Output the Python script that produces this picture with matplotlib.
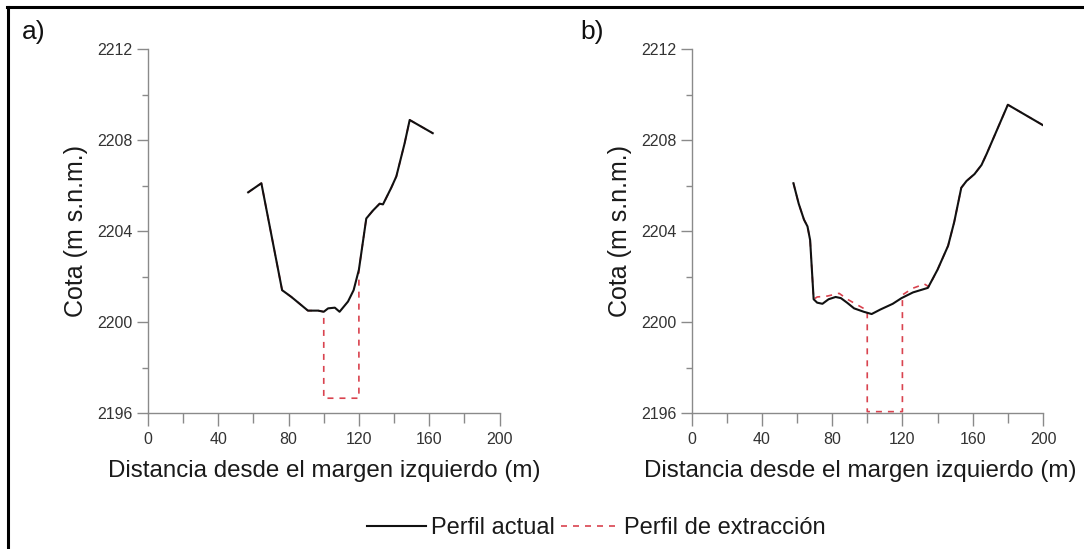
import matplotlib
matplotlib.use("Agg")
import matplotlib.pyplot as plt
from matplotlib.lines import Line2D
from matplotlib.ticker import MultipleLocator

plt.rcParams['font.family'] = ['Liberation Sans', 'DejaVu Sans']

# ---- data: panel a ----
xa_actual = [57, 64.5, 76.3, 81.6, 91, 96.8, 100, 102.5, 106.3, 109, 113.8, 117, 120,
             124.2, 128, 131.8, 133.7, 138.4, 141.3, 146, 148.9, 162]
ya_actual = [2205.7, 2206.1, 2201.4, 2201.1, 2200.5, 2200.5, 2200.45, 2200.6, 2200.63,
             2200.45, 2200.9, 2201.4, 2202.3, 2204.55, 2204.9, 2205.2, 2205.17, 2205.9,
             2206.4, 2207.85, 2208.88, 2208.3]
xa_extr = [57, 64.5, 76.3, 81.6, 91, 96.8, 100, 100, 120, 120,
           124.2, 128, 131.8, 133.7, 138.4, 141.3, 146, 148.9, 162]
ya_extr = [2205.7, 2206.1, 2201.4, 2201.1, 2200.5, 2200.5, 2200.45, 2196.65, 2196.65, 2202.3,
           2204.55, 2204.9, 2205.2, 2205.17, 2205.9, 2206.4, 2207.85, 2208.88, 2208.3]

# ---- data: panel b ----
xb_actual = [58, 61, 64, 66, 67.5, 69.5, 71.5, 74.5, 78, 82, 85, 88.5, 92.5, 98, 102.5,
             107.5, 114.5, 119.5, 126, 134.5, 140, 146, 149.5, 153.5, 156.5, 161, 165,
             168, 180, 200]
yb_actual = [2206.1, 2205.2, 2204.5, 2204.2, 2203.6, 2201.0, 2200.85, 2200.8, 2201.0,
             2201.1, 2201.05, 2200.85, 2200.6, 2200.45, 2200.35, 2200.55, 2200.8, 2201.05,
             2201.3, 2201.5, 2202.3, 2203.35, 2204.4, 2205.9, 2206.2, 2206.5, 2206.9,
             2207.4, 2209.55, 2208.65]
xb_extr = [58, 61, 64, 66, 67.5, 69.5, 71.5, 77.3, 84, 88.7, 94.4, 99.5, 100, 100, 120,
           120, 125.8, 132.5, 135, 140, 146, 149.5, 153.5, 156.5, 161, 165, 168, 180, 200]
yb_extr = [2206.1, 2205.2, 2204.5, 2204.2, 2203.6, 2201.0, 2201.1, 2201.14, 2201.26,
           2201.0, 2200.75, 2200.53, 2200.5, 2196.06, 2196.06, 2201.19, 2201.48, 2201.67,
           2201.55, 2202.3, 2203.35, 2204.4, 2205.9, 2206.2, 2206.5, 2206.9, 2207.4,
           2209.55, 2208.65]

panels = [("a)", xa_actual, ya_actual, xa_extr, ya_extr),
          ("b)", xb_actual, yb_actual, xb_extr, yb_extr)]

xlim = (0, 200)
ylim = (2196, 2212)
xticks = [0, 40, 80, 120, 160, 200]
yticks = [2196, 2200, 2204, 2208, 2212]

W, H = 1084, 549
fig = plt.figure(figsize=(W / 100, H / 100), dpi=100)

ax_left_px = [148, 691.5]
ax_w_px = 351.5
ax_top_px, ax_bot_px = 49, 413
label_px = [(22, 38.5), (580, 38.5)]
xlabel_center = [0.5, 0.48]

spine_col = '#8a8a8a'
red = '#d9434f'

for i, (tag, xa, ya, xe, ye) in enumerate(panels):
    ax = fig.add_axes([ax_left_px[i] / W, 1 - ax_bot_px / H,
                       ax_w_px / W, (ax_bot_px - ax_top_px) / H])
    ax.plot(xe, ye, color=red, lw=1.2, dashes=(3.6, 3.6))
    ax.plot(xa, ya, color='#111111', lw=1.5)
    ax.set_xlim(*xlim)
    ax.set_ylim(*ylim)
    ax.set_xticks(xticks)
    ax.set_yticks(yticks)
    ax.xaxis.set_minor_locator(MultipleLocator(20))
    ax.yaxis.set_minor_locator(MultipleLocator(2))
    for s in ['top', 'right']:
        ax.spines[s].set_visible(False)
    for s in ['left', 'bottom']:
        ax.spines[s].set_color(spine_col)
        ax.spines[s].set_linewidth(1.0)
    ax.tick_params(axis='x', which='major', length=9, width=1, color=spine_col,
                   labelsize=11.5, labelcolor='#333333', pad=5)
    ax.tick_params(axis='x', which='minor', length=7, width=1, color=spine_col)
    ax.tick_params(axis='y', which='major', length=8, width=1, color=spine_col,
                   labelsize=11.5, labelcolor='#333333', pad=3)
    ax.tick_params(axis='y', which='minor', length=4.5, width=1, color=spine_col)
    ax.patch.set_visible(False)

    ax.set_xlabel('Distancia desde el margen izquierdo (m)', fontsize=17.4,
                  color='#1a1a1a', va='baseline')
    ax.xaxis.set_label_coords(xlabel_center[i], (ax_bot_px - 476.5) / (ax_bot_px - ax_top_px))
    ax.set_ylabel('Cota (m s.n.m.)', fontsize=18, color='#1a1a1a',
                  va='baseline', ha='center', rotation_mode='anchor')
    ax.yaxis.set_label_coords((83.5 - 148) / ax_w_px, 0.5)

    fig.text(label_px[i][0] / W, 1 - label_px[i][1] / H, tag, fontsize=19,
             color='#111111', va='baseline', ha='left')

handles = [Line2D([], [], color='#111111', lw=1.5),
           Line2D([], [], color=red, lw=1.2, dashes=(3.6, 3.6))]
fig.legend(handles, ['Perfil actual', 'Perfil de extracción'], ncol=2,
           loc='center', bbox_to_anchor=(596.5 / W, 1 - 528 / H), frameon=False,
           fontsize=17, handlelength=2.5, handletextpad=0.2, columnspacing=0.25,
           labelcolor='#1a1a1a')

# figure border (top and left edges visible)
fig.add_artist(Line2D([7 / W, 1.0], [1 - 6.5 / H, 1 - 6.5 / H],
                      transform=fig.transFigure, color='black', lw=2.2))
fig.add_artist(Line2D([8 / W, 8 / W], [0.0, 1 - 6.5 / H],
                      transform=fig.transFigure, color='black', lw=2.2))

fig.savefig('out.png', dpi=100)
